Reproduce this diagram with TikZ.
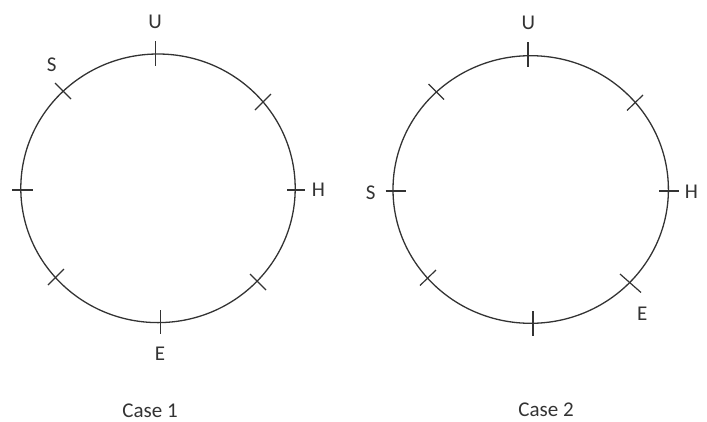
\documentclass[tikz,border=0pt]{standalone}
\usepackage{fontspec}
\setmainfont{Carlito}
\definecolor{ink}{HTML}{333333}
\begin{document}
\begin{tikzpicture}[x=1pt,y=-1pt,
  ring/.style={draw=ink,line width=1.3pt},
  tick/.style={draw=ink,line width=1.2pt},
  lbl/.style={text=ink,font=\fontsize{21}{25}\selectfont,inner sep=0pt},
]
\useasboundingbox (0,0) rectangle (707,421);
% Case 1
\draw[ring] (158,188.3) ellipse [x radius=137.2, y radius=134.3];
\draw[tick] (155.7,41) -- (155.7,66);
\draw[tick] (160.7,310) -- (160.7,334);
\draw[tick] (12,190) -- (33,190);
\draw[tick] (287,190) -- (305,190);
\draw[tick] (55,83) -- (71,99);
\draw[tick] (271,94) -- (255,110);
\draw[tick] (48,285) -- (64,269);
\draw[tick] (266,290) -- (250,274);
\node[lbl] (u1) at (155,21.7) {U};
\node[lbl] (s1) at (51.7,65) {S};
\node[lbl] (h1) at (318.3,190) {H};
\node[lbl] (e1) at (160,353.3) {E};
\node[lbl] (c1) at (150,410.5) {Case 1};
% Case 2
\draw[ring] (530.7,189.5) ellipse [x radius=137.7, y radius=133.8];
\draw[tick] (528,42) -- (528,67);
\draw[tick] (533,311) -- (533,336);
\draw[tick] (385.7,191) -- (406,191);
\draw[tick] (659,191) -- (679,191);
\draw[tick] (428.5,84) -- (444,99.5);
\draw[tick] (643,95) -- (627,110.5);
\draw[tick] (420,285.5) -- (436,270);
\draw[tick] (641,292.5) -- (620,274);
\node[lbl] (u2) at (528.3,22.7) {U};
\node[lbl] (s2) at (370.7,192.7) {S};
\node[lbl] (h2) at (691.3,191.7) {H};
\node[lbl] (e2) at (642.3,313.3) {E};
\node[lbl] (c2) at (546,410) {Case 2};
\end{tikzpicture}
\end{document}
